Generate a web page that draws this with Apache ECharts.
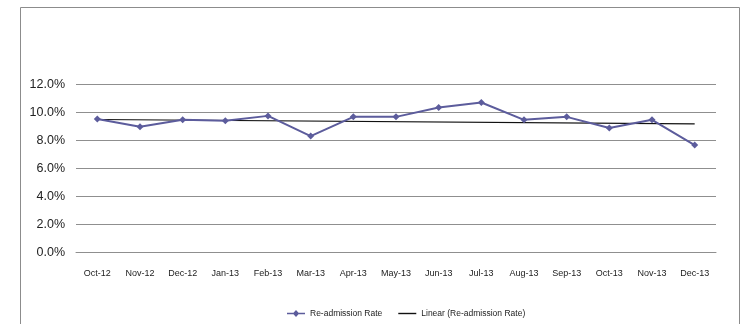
<!DOCTYPE html>
<html>
<head>
<meta charset="utf-8">
<script src="https://cdn.jsdelivr.net/npm/echarts@6/dist/echarts.min.js"></script>
<style>
  html, body { margin: 0; padding: 0; background: #fff; }
  #chart { width: 743px; height: 324px; }
</style>
</head>
<body>
<div id="chart"></div>
<script>
// Monthly re-admission rate (%), Oct 2012 – Dec 2013
const months = ['Oct-12', 'Nov-12', 'Dec-12', 'Jan-13', 'Feb-13', 'Mar-13', 'Apr-13', 'May-13',
                'Jun-13', 'Jul-13', 'Aug-13', 'Sep-13', 'Oct-13', 'Nov-13', 'Dec-13'];
const readmissionRate = [9.52, 8.97, 9.47, 9.40, 9.75, 8.31, 9.68, 9.68, 10.35, 10.70, 9.47, 9.68, 8.88, 9.47, 7.67];
// Linear trendline end points (first and last month)
const trendStart = 9.49;
const trendEnd = 9.18;
const yTicks = { min: 0, max: 12, step: 2 };

const trendData = months.map((_, i) => i === 0 ? trendStart : (i === months.length - 1 ? trendEnd : null));

const font = '"Liberation Sans Narrow", "Liberation Sans", sans-serif';
const chart = echarts.init(document.getElementById('chart'), null, { renderer: 'canvas' });

chart.setOption({
  backgroundColor: '#ffffff',
  animation: false,
  graphic: [{
    type: 'rect',
    shape: { x: 20.5, y: 7.5, width: 719, height: 340 },
    style: { fill: 'none', stroke: '#8c8c8c', lineWidth: 1 },
    silent: true
  }],
  grid: { left: 76, right: 27, top: 84.3, bottom: 71.3, containLabel: false },
  legend: {
    bottom: 1,
    left: 282,
    itemWidth: 18,
    itemHeight: 8,
    itemGap: 16,
    textStyle: { fontFamily: font, fontSize: 8.5, color: '#222' },
    data: [
      { name: 'Re-admission Rate', icon: 'path://M0,3.2H6.5L9,0.5L11.5,3.2H18V4.8H11.5L9,7.5L6.5,4.8H0Z' },
      { name: 'Linear (Re-admission Rate)', icon: 'path://M0,3.3H18V4.7H0Z' }
    ]
  },
  xAxis: {
    type: 'category',
    data: months,
    boundaryGap: true,
    axisLine: { show: true, lineStyle: { color: '#8f8f8f', width: 1 } },
    axisTick: { show: false },
    axisLabel: { fontFamily: font, fontSize: 9, color: '#222', margin: 16, interval: 0 }
  },
  yAxis: {
    type: 'value',
    min: yTicks.min,
    max: yTicks.max,
    interval: yTicks.step,
    axisLine: { show: false },
    axisTick: { show: false },
    splitLine: { lineStyle: { color: '#8f8f8f', width: 1 } },
    axisLabel: {
      fontFamily: font, fontSize: 12.5, color: '#222', margin: 11,
      formatter: v => v.toFixed(1) + '%'
    }
  },
  series: [
    {
      name: 'Re-admission Rate',
      type: 'line',
      data: readmissionRate,
      symbol: 'diamond',
      symbolSize: 7,
      itemStyle: { color: '#5c5c9c' },
      lineStyle: { color: '#5c5c9c', width: 2 },
      z: 3
    },
    {
      name: 'Linear (Re-admission Rate)',
      type: 'line',
      data: trendData,
      connectNulls: true,
      symbol: 'none',
      itemStyle: { color: '#111' },
      lineStyle: { color: '#111', width: 1.2 },
      z: 2
    }
  ]
});
</script>
</body>
</html>
